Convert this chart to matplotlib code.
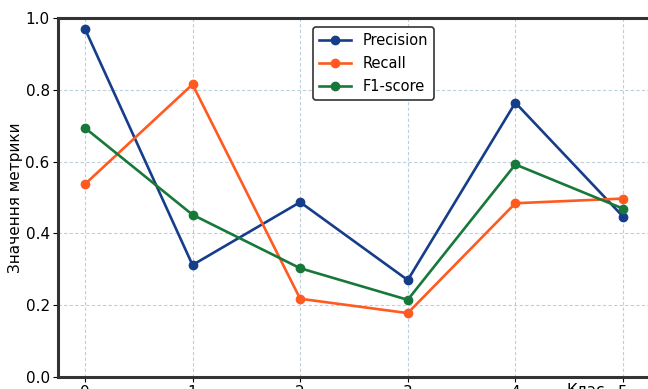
import numpy as np
import matplotlib
matplotlib.use("Agg")
import matplotlib.pyplot as plt

# class indices and metric values
classes = [0, 1, 2, 3, 4, 5]
precision = [0.97, 0.312, 0.487, 0.270, 0.764, 0.447]
recall = [0.537, 0.815, 0.218, 0.178, 0.484, 0.497]
f1_score = [0.694, 0.452, 0.303, 0.215, 0.592, 0.469]

fig = plt.figure(figsize=(6.48, 3.89), dpi=100)
ax = fig.add_axes([0.0895, 0.0308, 0.9167, 0.923])

ax.plot(classes, precision, marker="o", color="#153d8a", linewidth=1.9, markersize=6, label="Precision")
ax.plot(classes, recall, marker="o", color="#ff5a1f", linewidth=1.9, markersize=6, label="Recall")
ax.plot(classes, f1_score, marker="o", color="#18783a", linewidth=1.9, markersize=6, label="F1-score")

ax.set_xlim(-0.25, 5.27)
ax.set_ylim(0.0, 1.0)
ax.set_xticks(classes)
ax.set_yticks([0.0, 0.2, 0.4, 0.6, 0.8, 1.0])
ax.tick_params(labelsize=11, pad=2.5)

ax.grid(True, linestyle="--", color="#bcd0dc", linewidth=0.8, dashes=(3, 2))

for side in ["left", "bottom", "top", "right"]:
    ax.spines[side].set_linewidth(2.2)
    ax.spines[side].set_color("#333333")

ax.set_ylabel("Значення метрики", fontsize=11, labelpad=2)
ax.set_xlabel("Клас", fontsize=11)
ax.xaxis.set_label_coords(0.889, -0.016)

leg = ax.legend(loc="upper left", bbox_to_anchor=(0.429, 0.975), borderaxespad=0,
                fontsize=10.5, edgecolor="#333333", framealpha=1,
                handlelength=2.2, labelspacing=0.55)
leg.get_frame().set_linewidth(1.2)

fig.savefig("out.png", dpi=100)
